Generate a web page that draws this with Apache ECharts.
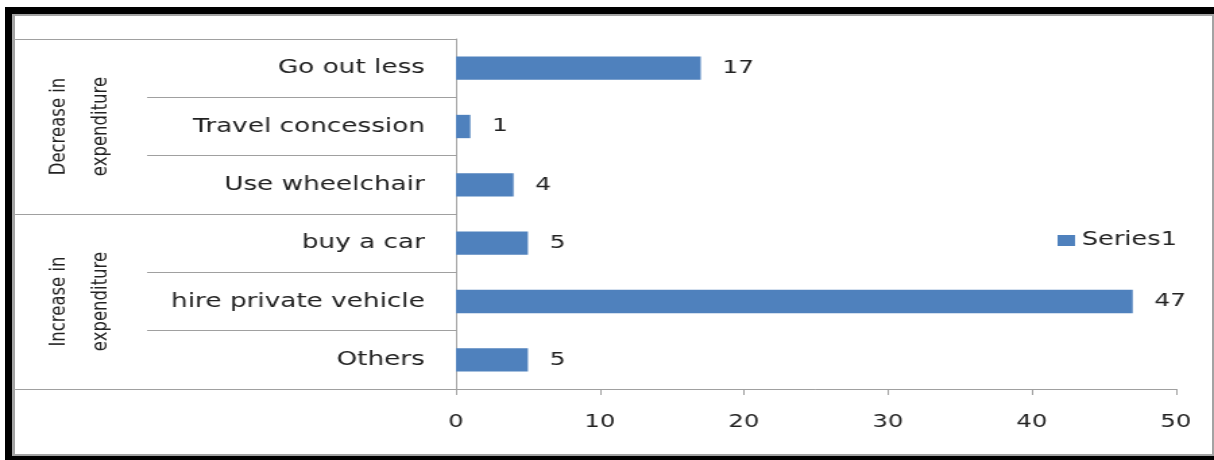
<!DOCTYPE html>
<html>
<head>
<meta charset="utf-8">
<script src="https://cdn.jsdelivr.net/npm/echarts@6/dist/echarts.min.js"></script>
<style>
  html, body { margin: 0; padding: 0; background: #ffffff; }
  body { width: 1214px; height: 460px; position: relative; overflow: hidden; }
  /* chart is laid out narrower and stretched horizontally */
  #chart { position: absolute; left: 0; top: 0; width: 900px; height: 460px;
           transform: scaleX(1.348889); transform-origin: 0 0; }
  #frame { position: absolute; left: 5px; top: 7px; width: 1217px; height: 456px;
           box-sizing: border-box; border: 7px solid #000; pointer-events: none; }
  #frame .inner { position: absolute; left: 0; top: 0; right: 0; bottom: 0;
           border: 2px solid #a3a3a3; border-left-width: 3px; border-right-width: 3px; }
</style>
</head>
<body>
<div id="chart"></div>
<div id="frame"><div class="inner"></div></div>
<script>
// Categories, listed top to bottom
const categories = ['Go out less', 'Travel concession', 'Use wheelchair', 'buy a car', 'hire private vehicle', 'Others'];
// Series1 values per category
const values = [17, 1, 4, 5, 47, 5];
// Outer grouping of the categories (three each)
const groups = ['Decrease in\nexpenditure', 'Increase in\nexpenditure'];
const seriesName = 'Series1';
// Value axis range
const axisMin = 0;
const axisMax = 50;
const axisStep = 10;

const font = 'DejaVu Sans';
const lineGray = '#a0a0a0';
const textColor = '#222222';

const chart = echarts.init(document.getElementById('chart'), null, { renderer: 'canvas' });

chart.setOption({
  animation: false,
  grid: { left: 338, right: 28.2, top: 39, bottom: 71, containLabel: false },
  legend: {
    data: [seriesName],
    left: 779,
    top: 226,
    icon: 'rect',
    itemWidth: 13,
    itemHeight: 11,
    textStyle: { fontFamily: font, fontSize: 19, color: textColor }
  },
  xAxis: {
    type: 'value',
    min: axisMin,
    max: axisMax,
    interval: axisStep,
    splitLine: { show: false },
    axisLine: { show: true, lineStyle: { color: lineGray, width: 1 } },
    axisTick: { show: true, length: 6, lineStyle: { color: lineGray } },
    axisLabel: { fontFamily: font, fontSize: 18, color: textColor, margin: 24 }
  },
  yAxis: [
    {
      type: 'category',
      data: categories,
      inverse: true,
      position: 'left',
      axisLine: { show: true, lineStyle: { color: lineGray, width: 1 } },
      axisTick: { show: true, length: 229, lineStyle: { color: lineGray } },
      axisLabel: { fontFamily: font, fontSize: 19.5, color: textColor, margin: 23 }
    },
    {
      type: 'category',
      data: groups,
      inverse: true,
      position: 'left',
      axisLine: { show: false },
      axisTick: { show: true, length: 327, lineStyle: { color: lineGray } },
      axisLabel: {
        rotate: 90,
        fontFamily: font,
        fontSize: 16.5,
        lineHeight: 31,
        color: textColor,
        margin: 248
      }
    }
  ],
  series: [
    {
      name: seriesName,
      type: 'bar',
      yAxisIndex: 0,
      data: values,
      barWidth: '40%',
      itemStyle: { color: '#4f81bd' },
      label: {
        show: true,
        position: 'right',
        distance: 16,
        fontFamily: font,
        fontSize: 18.5,
        color: textColor
      }
    }
  ]
});
</script>
</body>
</html>
